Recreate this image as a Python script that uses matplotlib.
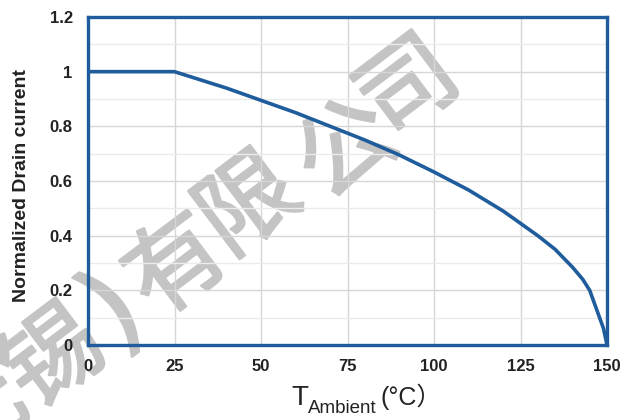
import matplotlib
matplotlib.use("Agg")
import matplotlib.pyplot as plt
import matplotlib.patheffects as pe
from matplotlib.ticker import MultipleLocator

# Data
temperature = [0, 25, 30, 40, 50, 60, 70, 75, 80, 90, 100, 110, 120, 125, 130, 135, 140, 143, 145, 147, 149, 150]
drain_norm = [1.0, 1.0, 0.98, 0.94, 0.895, 0.85, 0.80, 0.775, 0.75, 0.695, 0.633, 0.567, 0.49, 0.445, 0.40, 0.35, 0.285, 0.24, 0.20, 0.13, 0.06, 0.0]
x_ticks = [0, 25, 50, 75, 100, 125, 150]
y_ticks = [0, 0.2, 0.4, 0.6, 0.8, 1.0, 1.2]
y_tick_labels = ["0", "0.2", "0.4", "0.6", "0.8", "1", "1.2"]
watermark_chars = ["无", "锡", ")", "有", "限", "公", "司"]

W, H = 638, 420
fig = plt.figure(figsize=(W / 100, H / 100), dpi=100)
fig.patch.set_facecolor("white")
ax = fig.add_axes([88 / W, 1 - 345 / H, (607 - 88) / W, (345 - 17) / H])
ax.patch.set_alpha(0)
ax.set_zorder(2)

blue = "#1f5c9c"
ax.plot(temperature, drain_norm, color=blue, lw=2.6, solid_capstyle="butt", zorder=3, clip_on=False)

ax.set_xlim(0, 150)
ax.set_ylim(0, 1.2)
ax.set_xticks(x_ticks)
ax.set_yticks(y_ticks)
ax.set_yticklabels(y_tick_labels)
ax.yaxis.set_minor_locator(MultipleLocator(0.1))
ax.grid(True, which="major", color="#d6d6d6", lw=1.0, zorder=0)
ax.grid(True, which="minor", axis="y", color="#ebebeb", lw=1.0, zorder=0)
ax.tick_params(which="both", length=0)
ax.tick_params(axis="y", pad=11)
ax.tick_params(axis="x", pad=10)
for lab in ax.get_xticklabels() + ax.get_yticklabels():
    lab.set_fontfamily("Liberation Sans")
    lab.set_fontweight("bold")
    lab.set_fontsize(12)
    lab.set_color("#222222")
for s in ax.spines.values():
    s.set_color(blue)
    s.set_linewidth(2.4)

# Y label
fig.text(22 / W, 1 - 185 / H, "Normalized Drain current", rotation=90, ha="center", va="center",
         fontsize=14, fontweight="bold", family="Liberation Sans", color="#222222", zorder=3)

# X label: T with subscript "Ambient" then (°C）
fig.text(291 / W, 1 - 405 / H, "T", fontsize=20, family="Liberation Sans", color="#222222",
         ha="left", va="baseline", zorder=3)
fig.text(308 / W, 1 - 413 / H, "Ambient", fontsize=13.5, family="Liberation Sans", color="#222222",
         ha="left", va="baseline", zorder=3)
fig.text(381 / W, 1 - 405 / H, "(°C）", fontsize=18, family=["Liberation Sans", "Noto Sans CJK SC"],
         color="#222222", ha="left", va="baseline", zorder=3)

# Watermark (behind the plot elements)
wm_color = "#c4c4c4"
wm_pos = [(-22, 418), (55, 360), (115, 313), (178, 268), (250, 207), (348, 152), (410, 90)]
wm_size = [70, 70, 80, 70, 70, 70, 70]
wm_family = ["Noto Sans CJK SC", "Noto Sans CJK SC", "DejaVu Sans", "Noto Sans CJK SC",
             "Noto Sans CJK SC", "Noto Sans CJK SC", "Noto Sans CJK SC"]
for ch, (px, py), fs, fam in zip(watermark_chars, wm_pos, wm_size, wm_family):
    fig.text(px / W, 1 - py / H, ch, fontsize=fs, family=fam, color=wm_color,
             rotation=37, ha="center", va="center", rotation_mode="anchor", zorder=1,
             path_effects=[pe.withStroke(linewidth=1.8, foreground=wm_color)])

fig.savefig("out.png", dpi=100)
